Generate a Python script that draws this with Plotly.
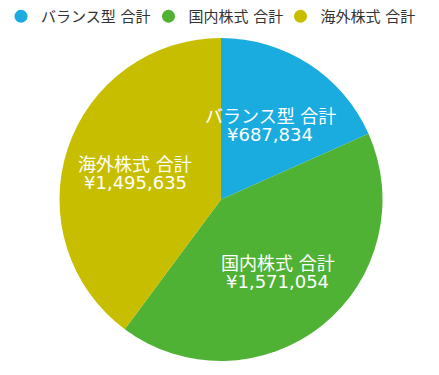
import math
import plotly.graph_objects as go

labels = ["バランス型 合計", "国内株式 合計", "海外株式 合計"]
values = [687834, 1571054, 1495635]
colors = ["#1AABDF", "#4FB234", "#C8BE00"]

W, H = 439, 375
cx, cy, r = 221, 199.5, 161.5
FONT = "DejaVu Sans, Noto Sans CJK JP, sans-serif"
LABEL_FRAC = 0.56
LEGEND_ENTRY_WIDTHS = [102.5, 87, 0]

fig = go.Figure()
fig.add_trace(go.Pie(
    labels=labels,
    values=values,
    sort=False,
    direction="clockwise",
    rotation=0,
    showlegend=False,
    marker=dict(colors=colors, line=dict(width=0)),
    textinfo="none",
    hoverinfo="label+value",
    domain=dict(x=[(cx - r) / W, (cx + r) / W], y=[1 - (cy + r) / H, 1 - (cy - r) / H]),
))

# slice labels placed at each slice's mid-angle (derived from the values)
total = sum(values)
cum = 0
for lab, val in zip(labels, values):
    mid = (cum + val / 2) / total * 2 * math.pi
    cum += val
    px = cx + LABEL_FRAC * r * math.sin(mid)
    py = cy - LABEL_FRAC * r * math.cos(mid) + 2
    for txt, shift in ((lab, 9), ("¥{:,}".format(val), -9)):
        fig.add_annotation(
            x=px / W, y=1 - py / H, xref="paper", yref="paper",
            text=txt, showarrow=False, yshift=shift,
            xanchor="center", yanchor="middle",
            font=dict(color="white", size=18, family=FONT),
        )

# legend entries with circle markers
for lab, col, lw in zip(labels, colors, LEGEND_ENTRY_WIDTHS):
    fig.add_trace(go.Scatter(
        x=[None], y=[None], mode="markers", name=lab,
        marker=dict(symbol="circle", size=13, color=col),
        showlegend=True, hoverinfo="skip", legendwidth=lw,
    ))

fig.update_xaxes(visible=False)
fig.update_yaxes(visible=False)

fig.update_layout(
    width=W, height=H,
    margin=dict(l=0, r=0, t=0, b=0),
    paper_bgcolor="white",
    plot_bgcolor="rgba(0,0,0,0)",
    font=dict(family=FONT, color="#333333", size=15),
    legend=dict(orientation="h", x=1 / W, y=1.0, xanchor="left", yanchor="top",
                font=dict(size=15, color="#333333", family=FONT),
                traceorder="normal", bgcolor="rgba(0,0,0,0)"),
)

fig.write_html("out.html", config={"displayModeBar": False},
               post_script="document.body.style.margin='0';")
